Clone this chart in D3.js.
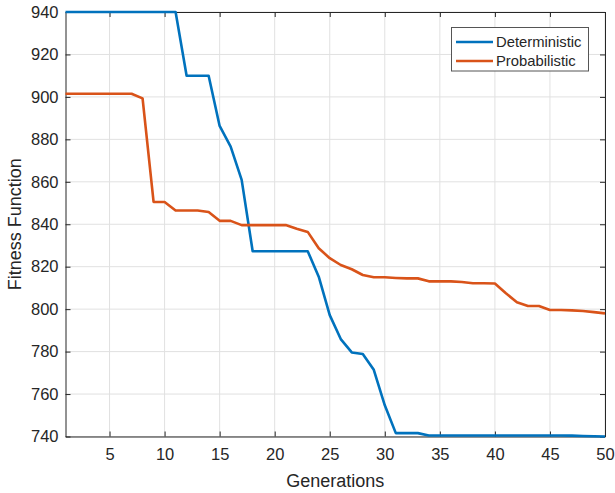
<!DOCTYPE html>
<html>
<head>
<meta charset="utf-8">
<script src="https://cdn.jsdelivr.net/npm/d3@7"></script>
<style>
  html, body { margin: 0; padding: 0; background: #fff; }
  svg { display: block; font-family: "Liberation Sans", Arial, Helvetica, sans-serif; }
</style>
</head>
<body>
<svg id="chart" width="615" height="493"></svg>
<script>
const generations = d3.range(1, 51);
const deterministic = [
  940, 940, 940, 940, 940, 940, 940, 940, 940, 940,
  940, 910, 910, 910, 886.3, 876.6, 860.9, 827.3, 827.3, 827.3,
  827.3, 827.3, 827.3, 815.3, 797.2, 785.9, 779.6, 778.9, 771.4, 754.7,
  741.6, 741.6, 741.6, 740.5, 740.5, 740.5, 740.5, 740.5, 740.5, 740.5,
  740.5, 740.5, 740.5, 740.5, 740.5, 740.5, 740.4, 740.2, 740.1, 740.0
];
const probabilistic = [
  901.5, 901.5, 901.5, 901.5, 901.5, 901.5, 901.5, 899.3, 850.5, 850.5,
  846.5, 846.5, 846.5, 845.8, 841.6, 841.6, 839.6, 839.6, 839.6, 839.6,
  839.6, 837.9, 836.4, 828.7, 824.0, 820.8, 818.8, 816.1, 815.0, 815.0,
  814.7, 814.5, 814.5, 813.1, 813.1, 813.1, 812.8, 812.2, 812.2, 812.1,
  807.5, 803.2, 801.5, 801.5, 799.6, 799.6, 799.4, 799.1, 798.6, 798.0
];
const seriesNames = ["Deterministic", "Probabilistic"];
const seriesColors = ["#0072BD", "#D95319"];
const xTicks = [5, 10, 15, 20, 25, 30, 35, 40, 45, 50];
const yTicks = [740, 760, 780, 800, 820, 840, 860, 880, 900, 920, 940];
const xLabel = "Generations";
const yLabel = "Fitness Function";

const svg = d3.select("#chart");
const L = 65.5, R = 605, T = 12, B = 436.5;
const W = R - L, H = B - T;
const axisColor = "#262626";
const textColor = "#262626";

const x = d3.scaleLinear().domain([1, 50]).range([L, R]);
const y = d3.scaleLinear().domain([740, 940]).range([B, T]);

// grid
const grid = svg.append("g");
grid.selectAll("line.vx").data(xTicks).join("line")
  .attr("x1", d => x(d)).attr("x2", d => x(d))
  .attr("y1", T).attr("y2", B)
  .attr("stroke", "#e1e1e1").attr("stroke-width", 1);
grid.selectAll("line.hy").data(yTicks).join("line")
  .attr("x1", L).attr("x2", R)
  .attr("y1", d => y(d)).attr("y2", d => y(d))
  .attr("stroke", "#e1e1e1").attr("stroke-width", 1);

// axes
const fontSize = "16.5px";
const gx = svg.append("g").attr("transform", `translate(0,${B})`)
  .call(d3.axisBottom(x).tickValues(xTicks).tickSizeInner(-5).tickSizeOuter(0).tickPadding(12));
const gy = svg.append("g").attr("transform", `translate(${L},0)`)
  .call(d3.axisLeft(y).tickValues(yTicks).tickSizeInner(-5).tickSizeOuter(0).tickPadding(7));
const gt = svg.append("g").attr("transform", `translate(0,${T})`)
  .call(d3.axisTop(x).tickValues(xTicks).tickSizeInner(-5).tickSizeOuter(0).tickFormat(""));
const gr = svg.append("g").attr("transform", `translate(${R},0)`)
  .call(d3.axisRight(y).tickValues(yTicks).tickSizeInner(-5).tickSizeOuter(0).tickFormat(""));
[gx, gy, gt, gr].forEach(g => {
  g.select(".domain").attr("stroke", axisColor).attr("stroke-width", 1);
  g.selectAll(".tick line").attr("stroke", axisColor).attr("stroke-width", 1);
  g.selectAll(".tick text").attr("fill", textColor).style("font-size", fontSize)
    .style("font-family", '"Liberation Sans", Arial, Helvetica, sans-serif');
});

// lines
const line = d3.line().x((d, i) => x(generations[i])).y(d => y(d));
[deterministic, probabilistic].forEach((s, k) => {
  svg.append("path").datum(s)
    .attr("fill", "none")
    .attr("stroke", seriesColors[k])
    .attr("stroke-width", 2.6)
    .attr("stroke-linejoin", "round")
    .attr("d", line);
});

// labels
svg.append("text").attr("x", (L + R) / 2).attr("y", 486.5)
  .attr("text-anchor", "middle").attr("fill", textColor)
  .style("font-size", "18px").text(xLabel);
svg.append("text").attr("transform", `translate(21,${(T + B) / 2}) rotate(-90)`)
  .attr("text-anchor", "middle").attr("fill", textColor)
  .style("font-size", "18px").text(yLabel);

// legend
const lg = svg.append("g");
lg.append("rect").attr("x", 451.5).attr("y", 27.5).attr("width", 137).attr("height", 43.5)
  .attr("fill", "#fff").attr("stroke", "#555").attr("stroke-width", 1);
seriesNames.forEach((name, i) => {
  const cy = 42 + i * 19;
  lg.append("line").attr("x1", 456).attr("x2", 493).attr("y1", cy).attr("y2", cy)
    .attr("stroke", seriesColors[i]).attr("stroke-width", 2.6);
  lg.append("text").attr("x", 496).attr("y", cy + 5.3).attr("fill", textColor)
    .style("font-size", "14.8px").text(name);
});
</script>
</body>
</html>
